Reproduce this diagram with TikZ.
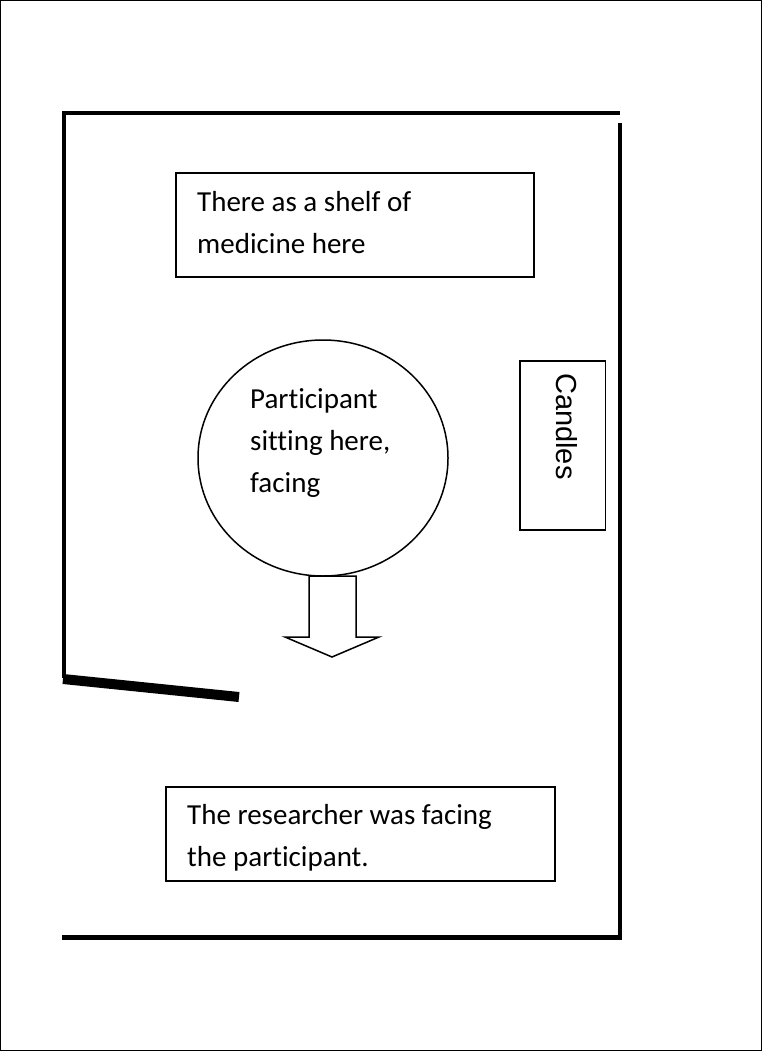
\documentclass[tikz,border=0pt]{standalone}
\usepackage{fontspec}
\setmainfont{Carlito}[Ligatures=NoCommon]
\newfontfamily\arialfont{Liberation Sans}
\tikzset{
  wall/.style={line width=4pt, line cap=butt},
  door/.style={line width=10pt, line cap=butt},
  labelbox/.style={draw, line width=1.5pt, rectangle, inner sep=0pt},
  label/.style={font=\fontsize{29}{42}\selectfont, align=left, inner sep=0pt, anchor=base west},
  seat/.style={draw, line width=1.5pt, ellipse},
}
\usetikzlibrary{shapes.geometric}
\begin{document}
\begin{tikzpicture}[x=1pt, y=-1pt]
\useasboundingbox (0,0) rectangle (762,1051);
% outer frame
\draw[line width=1.2pt] (0.6,0.6) rectangle (761.4,1050.4);
% walls
\coordinate (tl) at (62,113);
\coordinate (tr) at (620,113);
\coordinate (rt) at (620,123);
\coordinate (rb) at (620,940);
\coordinate (bl) at (62,937.5);
\coordinate (br) at (622,937.5);
\coordinate (lt) at (64,111);
\coordinate (lb) at (64,678);
\coordinate (d1) at (63,679);
\coordinate (d2) at (239,697);
\draw[wall] (tl) -- (tr);
\draw[wall] (rt) -- (rb);
\draw[wall, line width=5pt] (bl) -- (br);
\draw[wall] (lt) -- (lb);
\draw[door] (d1) -- (d2);
% shelf box
\draw[labelbox] (176,173) rectangle (534,277);
\node[label] (shelf) at (197,253) {There as a shelf of\\medicine here};
% participant
\draw[seat] (323,458) ellipse [x radius=125, y radius=118];
\node[label] (part) at (250,492) {Participant\\sitting here,\\facing};
% arrow
\draw[line width=1.5pt, line join=miter] (309,576) -- (309,637) -- (285,637) -- (332,657) -- (379,637) -- (356,637) -- (356,576) -- cycle;
% candles
\draw[labelbox] (520,361) rectangle (605.5,530);
\node[font=\arialfont\fontsize{29}{34}\selectfont, inner sep=0pt, rotate=-90, anchor=base west] (cand) at (556,373) {Candles};
% researcher box
\draw[labelbox] (166,787) rectangle (555,881);
\node[label] (res) at (187,866) {The researcher was facing\\the participant.};
\end{tikzpicture}
\end{document}
